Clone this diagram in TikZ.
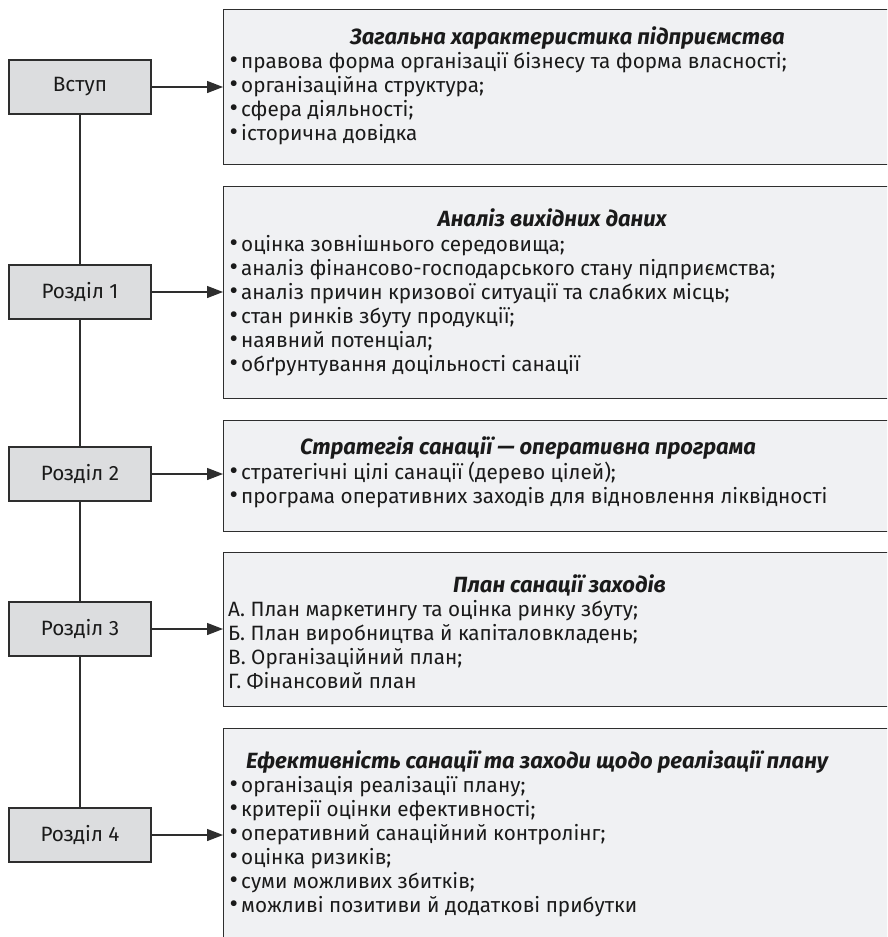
\documentclass[tikz,border=0pt]{standalone}
\usepackage{fontspec}
\setmainfont{Fira Sans}
\usetikzlibrary{arrows.meta}
\definecolor{partfill}{HTML}{DCDDDF}
\definecolor{infofill}{HTML}{F0F1F3}
\definecolor{edgegray}{HTML}{2E2E2E}
\definecolor{inkgray}{HTML}{1A1A1A}
% bullet mark followed by a fixed gap
\newcommand\bul{\makebox[11.5pt][l]{\raisebox{-0.3pt}{\scalebox{1.25}{•}}}}
\begin{document}
\begin{tikzpicture}[x=1pt,y=-1pt,
  every node/.style={font=\fontsize{20.7}{24}\selectfont, text=inkgray},
  partbox/.style={draw=edgegray, fill=partfill, line width=1.3pt,
    minimum width=142pt, minimum height=54pt, inner sep=0pt},
  infobox/.style={draw=edgegray, fill=infofill, line width=1.3pt,
    anchor=north west, minimum width=720pt, inner sep=0pt},
  heading/.style={inner sep=0pt,
    font=\fontsize{22}{24}\selectfont\bfseries\itshape},
  entry/.style={anchor=base west, inner sep=0pt},
  link/.style={draw=edgegray, line width=1.3pt},
  feed/.style={link, -{Triangle[length=16pt,width=12pt]}}
]
\useasboundingbox (0,0) rectangle (887,937);
\clip (0,0) rectangle (887,937);
\fill[white] (0,0) rectangle (887,937);

% contents blocks on the right (they run past the right and bottom edges)
\node[infobox, minimum height=155pt] (t0) at (223,9) {};
\node[infobox, minimum height=212pt] (t1) at (223,186) {};
\node[infobox, minimum height=111pt] (t2) at (223,420) {};
\node[infobox, minimum height=154pt] (t3) at (223,552) {};
\node[infobox, minimum height=240pt] (t4) at (223,728) {};

% part boxes on the left
\node[partbox] (p0) at (80,87)  {Вступ};
\node[partbox] (p1) at (80,292) {Розділ 1};
\node[partbox] (p2) at (80,474) {Розділ 2};
\node[partbox] (p3) at (80,629) {Розділ 3};
\node[partbox] (p4) at (80,835) {Розділ 4};

% spine
\draw[link] (p0.south) -- (p1.north);
\draw[link] (p1.south) -- (p2.north);
\draw[link] (p2.south) -- (p3.north);
\draw[link] (p3.south) -- (p4.north);

% arrows to contents
\draw[feed] (p0.east) -- (p0.east -| t0.west);
\draw[feed] (p1.east) -- (p1.east -| t1.west);
\draw[feed] (p2.east) -- (p2.east -| t2.west);
\draw[feed] (p3.east) -- (p3.east -| t3.west);
\draw[feed] (p4.east) -- (p4.east -| t4.west);

% block 0
\node[heading, anchor=base west] (h0) at (350,44) {Загальна характеристика підприємства};
\foreach \txt [count=\i] in {
  {правова форма організації бізнесу та форма власності;},
  {організаційна структура;},
  {сфера діяльності;},
  {історична довідка}}
  \node[entry] (e0-\i) at (229.5,{44+24*\i}) {\bul\txt};

% block 1
\node[heading, anchor=base east] (h1) at (667,226) {Аналіз вихідних даних};
\foreach \txt [count=\i] in {
  {оцінка зовнішнього середовища;},
  {аналіз фінансово-господарського стану підприємства;},
  {аналіз причин кризової ситуації та слабких місць;},
  {стан ринків збуту продукції;},
  {наявний потенціал;},
  {обґрунтування доцільності санації}}
  \node[entry] (e1-\i) at (229.5,{227+24*\i}) {\bul\txt};

% block 2
\node[heading, anchor=base] (h2) at (528,454) {Стратегія санації — оперативна програма};
\foreach \txt [count=\i] in {
  {стратегічні цілі санації (дерево цілей);},
  {програма оперативних заходів для відновлення ліквідності}}
  \node[entry] (e2-\i) at (229.5,{455+24*\i}) {\bul\txt};

% block 3
\node[heading, anchor=base west] (h3) at (453,592) {План санації заходів};
\foreach \txt [count=\i] in {
  {А. План маркетингу та оцінка ринку збуту;},
  {Б. План виробництва й капіталовкладень;},
  {В. Організаційний план;},
  {Г. Фінансовий план}}
  \node[entry] (e3-\i) at (228,{592+24*\i}) {\txt};

% block 4
\node[heading, anchor=base west] (h4) at (246,768) {Ефективність санації та заходи щодо реалізації плану};
\foreach \txt [count=\i] in {
  {організація реалізації плану;},
  {критерії оцінки ефективності;},
  {оперативний санаційний контролінг;},
  {оцінка ризиків;},
  {суми можливих збитків;},
  {можливі позитиви й додаткові прибутки}}
  \node[entry] (e4-\i) at (229.5,{768+24*\i}) {\bul\txt};
\end{tikzpicture}
\end{document}
